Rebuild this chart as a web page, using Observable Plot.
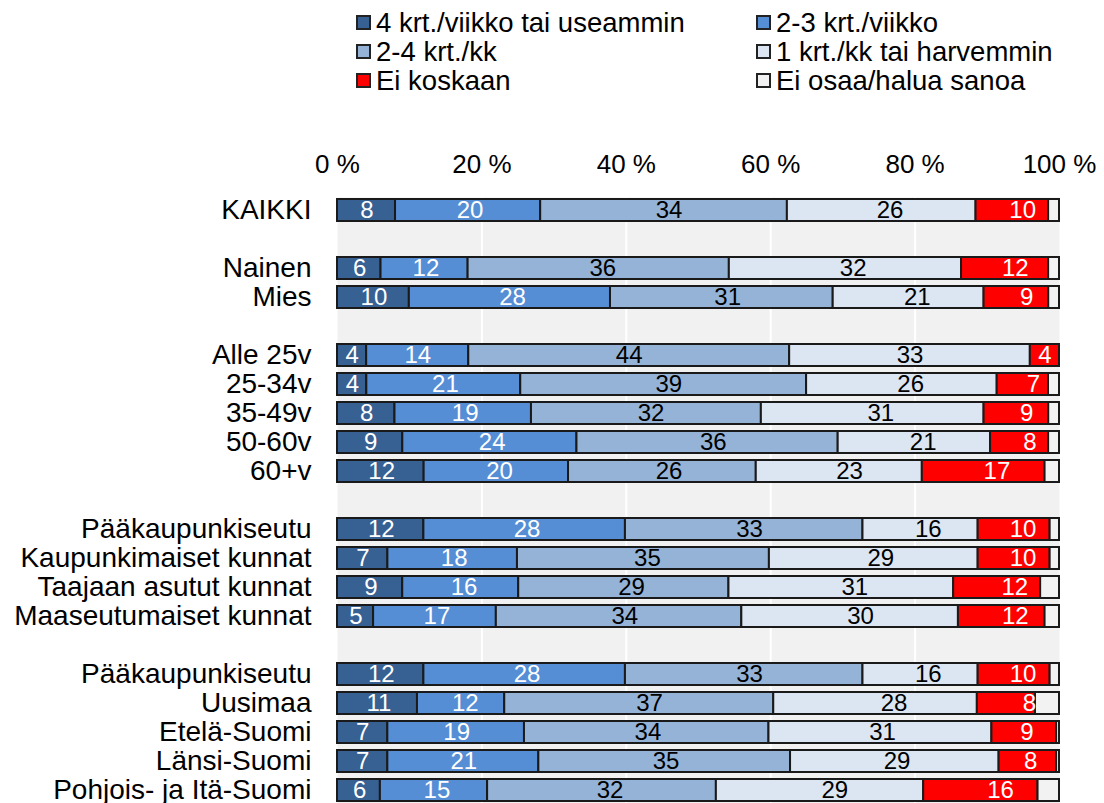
<!DOCTYPE html>
<html>
<head>
<meta charset="utf-8">
<script src="https://cdn.jsdelivr.net/npm/d3@7"></script>
<script src="https://cdn.jsdelivr.net/npm/@observablehq/plot@0.6"></script>
<style>
  html, body { margin: 0; padding: 0; background: #fff; overflow: hidden; }
  body { width: 1104px; height: 803px; position: relative; font-family: "Liberation Sans", Arial, sans-serif; }
  #legend { position: absolute; left: 356px; top: 8px; display: grid; grid-template-columns: 400px 340px; grid-auto-rows: 29px; }
  .item { display: flex; align-items: center; font-size: 27.5px; color: #000; white-space: nowrap; }
  .sw { width: 11px; height: 11px; border: 2px solid #222; margin-right: 5px; flex: none; }
  #chart { position: absolute; left: 0; top: 100px; }
</style>
</head>
<body>
<div id="legend"></div>
<div id="chart"></div>
<script>
// ---- data ----
const categories = ["KAIKKI","Nainen","Mies","Alle 25v","25-34v","35-49v","50-60v","60+v",
  "Pääkaupunkiseutu","Kaupunkimaiset kunnat","Taajaan asutut kunnat","Maaseutumaiset kunnat",
  "Pääkaupunkiseutu","Uusimaa","Etelä-Suomi","Länsi-Suomi","Pohjois- ja Itä-Suomi"];
const groupStarts = [1, 3, 8, 12]; // a blank row precedes these categories
const seriesNames = ["4 krt./viikko tai useammin","2-3 krt./viikko","2-4 krt./kk",
  "1 krt./kk tai harvemmin","Ei koskaan","Ei osaa/halua sanoa"];
const seriesColors = ["#376093","#558ed5","#95b3d7","#dce6f2","#ff0000","#f2f2f2"];
const labelColors = ["#fff","#fff","#000","#000","#fff","#000"];
const s4krtViikko = [8,6,10,4,4,8,9,12,12,7,9,5,12,11,7,7,6];
const s23krtViikko = [20,12,28,14,21,19,24,20,28,18,16,17,28,12,19,21,15];
const s24krtKk = [34,36,31,44,39,32,36,26,33,35,29,34,33,37,34,35,32];
const s1krtKk = [26,32,21,33,26,31,21,23,16,29,31,30,16,28,31,29,29];
const sEiKoskaan = [10,12,9,4,7,9,8,17,10,10,12,12,10,8,9,8,16];
const sEiOsaa = [1.5,1.5,1.5,0,1.5,1.5,1.5,2,1.3,1.3,2.6,2,1.3,3.3,0.4,0.4,3];
const xTicks = [0, 0.2, 0.4, 0.6, 0.8, 1];
const gridTicks = [0.2, 0.4, 0.6, 0.8];

// ---- build table ----
const seriesValues = [s4krtViikko, s23krtViikko, s24krtKk, s1krtKk, sEiKoskaan, sEiOsaa];
const slots = [];
categories.forEach((c, i) => {
  if (groupStarts.includes(i)) slots.push("gap" + i);
  slots.push("r" + i);
});
const data = [];
categories.forEach((c, i) => {
  seriesValues.forEach((vals, s) => {
    data.push({row: "r" + i, series: seriesNames[s], si: s, value: vals[i]});
  });
});
const labelOf = k => k.startsWith("r") ? categories[+k.slice(1)] : "";

// ---- legend ----
const legend = document.getElementById("legend");
seriesNames.forEach((name, s) => {
  const it = document.createElement("div");
  it.className = "item";
  it.innerHTML = `<span class="sw" style="background:${seriesColors[s]}"></span><span>${name}</span>`;
  legend.appendChild(it);
});

// ---- chart ----
const stackOpts = {x: "value", y: "row", z: "series", offset: "normalize"};
const chart = Plot.plot({
  width: 1104,
  height: 708,
  marginTop: 92,
  marginBottom: 0,
  marginLeft: 337,
  marginRight: 45,
  style: {fontFamily: "Liberation Sans, Arial, sans-serif", color: "#000", background: "transparent"},
  x: {domain: [0, 1], label: null},
  y: {domain: slots, padding: 0.24, label: null},
  color: {domain: seriesNames, range: seriesColors},
  marks: [
    Plot.frame({fill: "#f1f1f1", stroke: "none", insetTop: 5}),
    Plot.ruleX(gridTicks, {stroke: "#fff", strokeWidth: 2}),
    Plot.barX(data, Plot.stackX({...stackOpts, fill: "series", stroke: "#1a1a1a", strokeWidth: 2})),
    Plot.text(data.filter(d => d.si < 5), Plot.stackX({...stackOpts, text: d => String(d.value),
      fill: d => labelColors[d.si], fontSize: 24})),
    Plot.axisX({anchor: "top", ticks: xTicks, tickFormat: d => Math.round(d * 100) + " %",
      tickSize: 0, tickPadding: 20, fontSize: 26, label: null}),
    Plot.axisY({anchor: "left", tickSize: 0, tickPadding: 26, fontSize: 28, tickFormat: labelOf, label: null})
  ]
});
document.getElementById("chart").appendChild(chart);
</script>
</body>
</html>
